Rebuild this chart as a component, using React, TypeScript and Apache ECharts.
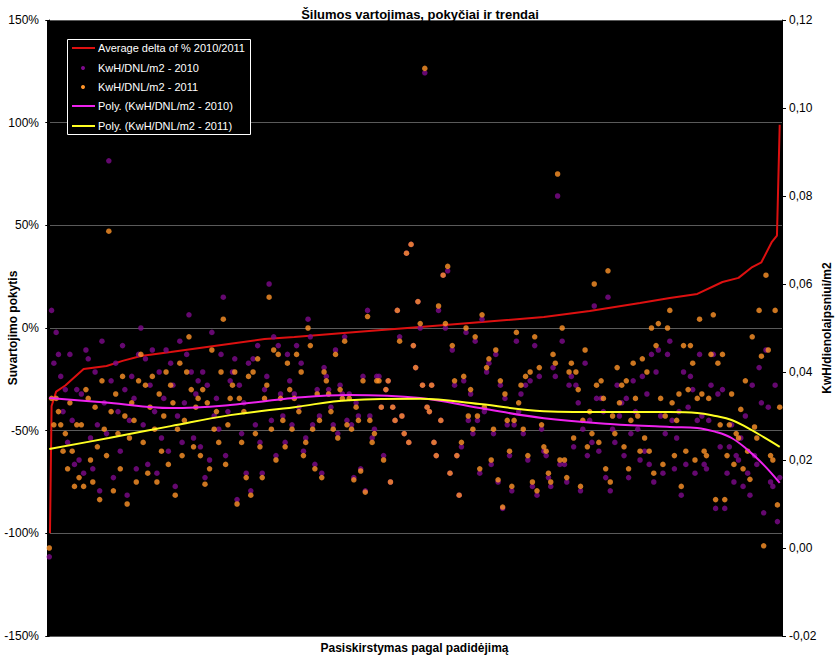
import React, { useEffect, useRef } from "react";
import * as echarts from "echarts";

// KwH/DNL/m2 - 2010 (purple), one value per building, sorted by delta
const kwh2010: number[] = [
  -0.002, 0.054, 0.042, 0.049, 0.044, 0.039, 0.031, 0.036, 0.024, 0.044, 0.029, 0.019, 0.036, 0.020, 0.035, 0.017, 0.045, 0.043, 0.025, 0.018,
  0.040, 0.028, 0.013, 0.047, 0.033, 0.026, 0.088, 0.038, 0.016, 0.042, 0.031, 0.022, 0.046, 0.036, 0.012, 0.029, 0.039, 0.034, 0.018, 0.044,
  0.050, 0.028, 0.043, 0.019, 0.037, 0.045, 0.031, 0.017, 0.040, 0.025, 0.034, 0.045, 0.022, 0.042, 0.037, 0.014, 0.030, 0.047, 0.024, 0.033,
  0.044, 0.053, 0.040, 0.025, 0.035, 0.038, 0.023, 0.040, 0.016, 0.037, 0.020, 0.049, 0.030, 0.034, 0.027, 0.044, 0.057, 0.021, 0.031, 0.038,
  0.040, 0.043, 0.011, 0.037, 0.026, 0.033, 0.017, 0.042, 0.013, 0.043, 0.028, 0.046, 0.024, 0.017, 0.036, 0.039, 0.060, 0.029, 0.048, 0.021,
  0.046, 0.035, 0.030, 0.024, 0.044, 0.038, 0.028, 0.035, 0.046, 0.032, 0.042, 0.022, 0.025, 0.052, 0.048, 0.028, 0.019, 0.036, 0.030, 0.017,
  0.041, 0.039, 0.036, 0.032, 0.028, 0.045, 0.026, 0.037, 0.035, 0.048, 0.029, 0.035, 0.028, 0.016, 0.033, 0.030, 0.018, 0.039, 0.013, 0.054,
  0.030, 0.025, 0.027, 0.039, 0.039, 0.032, 0.021, 0.036, 0.038, 0.015, 0.032, 0.029, 0.054, 0.048, 0.030, 0.026, 0.067, 0.024, 0.069, 0.046,
  0.041, 0.056, 0.050, 0.037, 0.108, 0.032, 0.031, 0.037, 0.024, 0.021, 0.054, 0.029, 0.062, 0.050, 0.063, 0.017, 0.045, 0.037, 0.021, 0.012,
  0.023, 0.038, 0.049, 0.029, 0.035, 0.026, 0.047, 0.029, 0.017, 0.052, 0.031, 0.040, 0.042, 0.019, 0.026, 0.044, 0.015, 0.037, 0.009, 0.034,
  0.028, 0.021, 0.013, 0.028, 0.047, 0.031, 0.035, 0.026, 0.037, 0.020, 0.038, 0.014, 0.046, 0.012, 0.039, 0.027, 0.022, 0.021, 0.016, 0.014,
  0.041, 0.039, 0.080, 0.019, 0.047, 0.019, 0.015, 0.037, 0.039, 0.023, 0.037, 0.033, 0.013, 0.027, 0.042, 0.021, 0.029, 0.024, 0.055, 0.034,
  0.022, 0.034, 0.031, 0.016, 0.057, 0.013, 0.027, 0.024, 0.037, 0.030, 0.033, 0.021, 0.034, 0.016, 0.026, 0.038, 0.031, 0.027, 0.020, 0.039,
  0.022, 0.035, 0.019, 0.044, 0.015, 0.040, 0.045, 0.030, 0.017, 0.026, 0.044, 0.047, 0.029, 0.018, 0.025, 0.031, 0.012, 0.040, 0.019, 0.032,
  0.039, 0.036, 0.017, 0.029, 0.044, 0.030, 0.019, 0.018, 0.029, 0.037, 0.044, 0.009, 0.035, 0.023, 0.036, 0.009, 0.017, 0.023, 0.028, 0.015,
  0.021, 0.020, 0.025, 0.014, 0.030, 0.017, 0.012, 0.037, 0.021, 0.019, 0.041, 0.033, 0.008, 0.045, 0.032, 0.015, 0.014, 0.037, 0.006, 0.016,
];

// KwH/DNL/m2 - 2011 (orange)
const kwh2011: number[] = [
  0.000, 0.034, 0.028, 0.034, 0.031, 0.028, 0.022, 0.026, 0.018, 0.033, 0.022, 0.014, 0.028, 0.016, 0.028, 0.014, 0.036, 0.034, 0.020, 0.015,
  0.032, 0.023, 0.011, 0.038, 0.027, 0.021, 0.072, 0.031, 0.013, 0.035, 0.026, 0.018, 0.039, 0.030, 0.010, 0.025, 0.033, 0.029, 0.015, 0.038,
  0.044, 0.024, 0.037, 0.017, 0.032, 0.039, 0.027, 0.015, 0.035, 0.022, 0.030, 0.040, 0.019, 0.037, 0.033, 0.012, 0.027, 0.042, 0.021, 0.029,
  0.040, 0.048, 0.036, 0.023, 0.032, 0.034, 0.021, 0.036, 0.0145, 0.033, 0.018, 0.045, 0.027, 0.031, 0.024, 0.040, 0.052, 0.019, 0.028, 0.034,
  0.037, 0.040, 0.010, 0.034, 0.024, 0.031, 0.016, 0.039, 0.012, 0.040, 0.026, 0.043, 0.023, 0.016, 0.034, 0.037, 0.057, 0.027, 0.045, 0.020,
  0.044, 0.034, 0.029, 0.023, 0.042, 0.036, 0.027, 0.034, 0.044, 0.031, 0.040, 0.021, 0.024, 0.050, 0.046, 0.027, 0.018, 0.035, 0.029, 0.016,
  0.040, 0.038, 0.035, 0.031, 0.027, 0.044, 0.025, 0.036, 0.034, 0.047, 0.028, 0.034, 0.027, 0.0155, 0.032, 0.029, 0.0175, 0.038, 0.0127, 0.0526,
  0.029, 0.024, 0.026, 0.038, 0.038, 0.032, 0.020, 0.036, 0.038, 0.015, 0.032, 0.029, 0.054, 0.047, 0.030, 0.026, 0.067, 0.024, 0.069, 0.046,
  0.041, 0.056, 0.051, 0.037, 0.109, 0.032, 0.031, 0.037, 0.024, 0.021, 0.055, 0.029, 0.062, 0.051, 0.064, 0.017, 0.046, 0.038, 0.021, 0.012,
  0.024, 0.039, 0.050, 0.030, 0.036, 0.027, 0.048, 0.030, 0.018, 0.053, 0.032, 0.041, 0.043, 0.020, 0.027, 0.045, 0.0155, 0.038, 0.0093, 0.035,
  0.029, 0.022, 0.014, 0.029, 0.049, 0.033, 0.037, 0.027, 0.039, 0.021, 0.040, 0.015, 0.048, 0.013, 0.041, 0.028, 0.023, 0.022, 0.017, 0.015,
  0.044, 0.042, 0.085, 0.020, 0.050, 0.020, 0.016, 0.040, 0.042, 0.025, 0.040, 0.036, 0.014, 0.029, 0.045, 0.023, 0.031, 0.026, 0.060, 0.037,
  0.024, 0.038, 0.034, 0.018, 0.063, 0.015, 0.030, 0.026, 0.041, 0.033, 0.037, 0.023, 0.038, 0.018, 0.029, 0.042, 0.034, 0.030, 0.022, 0.043,
  0.025, 0.040, 0.022, 0.050, 0.017, 0.046, 0.051, 0.034, 0.019, 0.030, 0.050, 0.054, 0.033, 0.021, 0.029, 0.035, 0.014, 0.046, 0.022, 0.036,
  0.046, 0.042, 0.020, 0.034, 0.052, 0.035, 0.022, 0.021, 0.034, 0.044, 0.053, 0.011, 0.042, 0.028, 0.044, 0.011, 0.021, 0.028, 0.035, 0.019,
  0.026, 0.025, 0.0315, 0.018, 0.038, 0.022, 0.0156, 0.048, 0.0275, 0.025, 0.054, 0.0436, 0.0005, 0.062, 0.045, 0.021, 0.020, 0.054, 0.0098, 0.032,
];

// Average delta of % 2010/2011 (sorted), sampled along the building index
const deltaIdx: number[] = [0.3, 1, 3, 7, 10, 15, 25, 32, 40, 53, 72, 94, 107, 134, 162, 189, 216, 236, 258, 271, 283, 294, 301, 307, 311, 315.6, 317.8, 318.2, 319];
const deltaPct: number[] = [-100, -38, -31, -28, -25, -20, -18.5, -16, -13.6, -11.7, -8.8, -5.4, -4.4, -2, 0.5, 2.9, 5.4, 8.3, 12.2, 14.6, 16.6, 22.4, 24.4, 29.7, 32, 42, 45, 63, 99];

// Polynomial trend lines
const polyIdx: number[] = [0, 26, 53, 79, 107, 131, 162, 188, 216, 245, 271, 283, 291, 298, 305, 312, 319];
const poly2010: number[] = [0.0341, 0.033, 0.0318, 0.0325, 0.0341, 0.0348, 0.0341, 0.0318, 0.0295, 0.0282, 0.0275, 0.0273, 0.0264, 0.025, 0.0223, 0.0189, 0.0148];
const poly2011: number[] = [0.0225, 0.025, 0.0277, 0.0302, 0.032, 0.0336, 0.0339, 0.0327, 0.0311, 0.0309, 0.0309, 0.0307, 0.03, 0.0291, 0.0273, 0.0252, 0.023];

const legendItems: string[] = [
  "Average delta of % 2010/2011",
  "KwH/DNL/m2 - 2010",
  "KwH/DNL/m2 - 2011",
  "Poly. (KwH/DNL/m2 - 2010)",
  "Poly. (KwH/DNL/m2 - 2011)",
];

const FONT = "'Liberation Sans', Arial, sans-serif";
const C_RED = "#dd1010";
const C_PURPLE = "#7e0a8c";
const C_ORANGE = "#ff9428";
const C_MAGENTA = "#ee22ee";
const C_YELLOW = "#ffff22";

export default function App() {
  const ref = useRef<HTMLDivElement>(null);
  useEffect(() => {
    if (!ref.current) return;
    const chart = echarts.init(ref.current, undefined, { renderer: "svg" });
    const legendY = [48, 68, 87, 106, 126];
    const graphic: any[] = [
      {
        type: "rect",
        z: 100,
        shape: { x: 67.5, y: 39.5, width: 183, height: 95 },
        style: { fill: "#000", stroke: "#fff", lineWidth: 1 },
      },
      { type: "line", z: 101, shape: { x1: 72, y1: legendY[0], x2: 95, y2: legendY[0] }, style: { stroke: C_RED, lineWidth: 2 } },
      { type: "circle", z: 101, shape: { cx: 83, cy: legendY[1], r: 2 }, style: { fill: C_PURPLE } },
      { type: "circle", z: 101, shape: { cx: 83, cy: legendY[2], r: 2 }, style: { fill: C_ORANGE } },
      { type: "line", z: 101, shape: { x1: 72, y1: legendY[3], x2: 95, y2: legendY[3] }, style: { stroke: C_MAGENTA, lineWidth: 2 } },
      { type: "line", z: 101, shape: { x1: 72, y1: legendY[4], x2: 95, y2: legendY[4] }, style: { stroke: C_YELLOW, lineWidth: 2 } },
      ...legendItems.map((t, i) => ({
        type: "text",
        z: 101,
        x: 98,
        y: legendY[i],
        style: { text: t, fill: "#fff", font: `11px ${FONT}`, verticalAlign: "middle", align: "left" },
      })),
    ];
    chart.setOption({
      animation: false,
      backgroundColor: "#fff",
      title: {
        text: "Šilumos vartojimas, pokyčiai ir trendai",
        left: "center",
        top: 3,
        textStyle: { fontSize: 13, fontWeight: "bold", color: "#000", fontFamily: FONT },
      },
      grid: {
        left: 47,
        right: 58,
        top: 20,
        bottom: 25,
        containLabel: false,
        outerBoundsMode: "none",
        show: true,
        backgroundColor: "#000",
        borderWidth: 0,
      },
      xAxis: {
        type: "value",
        min: -1,
        max: 320,
        name: "Pasiskirstymas pagal padidėjimą",
        nameLocation: "middle",
        nameGap: 6,
        nameMoveOverlap: false,
        nameTextStyle: { fontSize: 12, fontWeight: "bold", color: "#000", fontFamily: FONT, verticalAlign: "top" },
        axisLine: { show: false },
        axisTick: { show: false },
        axisLabel: { show: false },
        splitLine: { show: false },
      },
      yAxis: [
        {
          type: "value",
          min: -150,
          max: 150,
          interval: 50,
          position: "left",
          name: "Suvartojimo pokytis",
          nameLocation: "middle",
          nameRotate: 90,
          nameGap: 28,
          nameMoveOverlap: false,
          nameTextStyle: { fontSize: 12, fontWeight: "bold", color: "#000", fontFamily: FONT },
          axisLine: { show: true, lineStyle: { color: "#000" } },
          axisTick: { show: true, length: 4, lineStyle: { color: "#000" } },
          axisLabel: { color: "#000", fontSize: 12, fontFamily: FONT, margin: 8, formatter: (v: number) => `${v}%` },
          splitLine: { show: true, lineStyle: { color: "#5a5a5a", width: 1 } },
        },
        {
          type: "value",
          min: -0.02,
          max: 0.12,
          interval: 0.02,
          position: "right",
          name: "KwH/dienolaipsniui/m2",
          nameLocation: "middle",
          nameRotate: 90,
          nameGap: 39,
          nameMoveOverlap: false,
          nameTextStyle: { fontSize: 12, fontWeight: "bold", color: "#000", fontFamily: FONT },
          axisLine: { show: true, lineStyle: { color: "#000" } },
          axisTick: { show: true, length: 4, lineStyle: { color: "#000" } },
          axisLabel: {
            color: "#000",
            fontSize: 12,
            fontFamily: FONT,
            margin: 7,
            formatter: (v: number) => v.toFixed(2).replace(".", ","),
          },
          splitLine: { show: false },
        },
      ],
      series: [
        {
          name: legendItems[0],
          type: "line",
          yAxisIndex: 0,
          data: deltaIdx.map((x, i) => [x, deltaPct[i]]),
          symbol: "none",
          lineStyle: { color: C_RED, width: 2 },
          z: 2,
        },
        {
          name: legendItems[1],
          type: "scatter",
          yAxisIndex: 1,
          data: kwh2010.map((v, i) => [i, v]),
          symbol: "circle",
          symbolSize: 5.5,
          itemStyle: { color: C_PURPLE },
          z: 3,
        },
        {
          name: legendItems[2],
          type: "scatter",
          yAxisIndex: 1,
          data: kwh2011.map((v, i) => [i, v]),
          symbol: "circle",
          symbolSize: 5.5,
          itemStyle: { color: C_ORANGE },
          z: 4,
        },
        {
          name: legendItems[3],
          type: "line",
          yAxisIndex: 1,
          data: polyIdx.map((x, i) => [x, poly2010[i]]),
          symbol: "none",
          smooth: 0.4,
          lineStyle: { color: C_MAGENTA, width: 2 },
          z: 5,
        },
        {
          name: legendItems[4],
          type: "line",
          yAxisIndex: 1,
          data: polyIdx.map((x, i) => [x, poly2011[i]]),
          symbol: "none",
          smooth: 0.4,
          lineStyle: { color: C_YELLOW, width: 2 },
          z: 6,
        },
      ],
      graphic,
    });
    return () => chart.dispose();
  }, []);
  return (
    <div
      ref={ref}
      style={{ position: "fixed", left: 0, top: 0, width: 840, height: 661, background: "#fff" }}
    />
  );
}
